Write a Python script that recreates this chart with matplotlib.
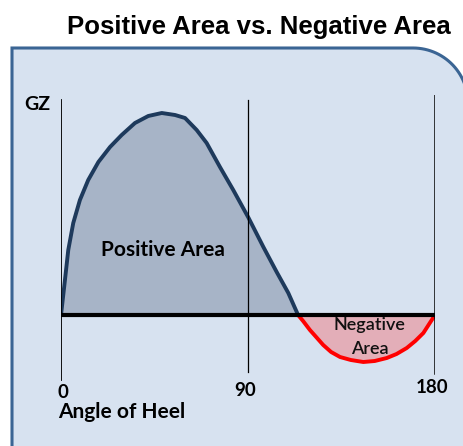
import numpy as np
import matplotlib
matplotlib.use("Agg")
import matplotlib.pyplot as plt
from matplotlib.path import Path
from matplotlib.patches import PathPatch

# GZ curve (angle in degrees, GZ in arbitrary units)
pos_angle = [0, 1.9, 3.5, 5.9, 9.1, 13.1, 18.0, 23.6, 29.2, 35.6, 42.0, 48.5,
             54.9, 59.7, 65.3, 70.1, 76.5, 82.9, 90.3, 97.4, 103.8, 109.4, 114.1]
pos_gz = [0, 0.35, 0.65, 0.92, 1.15, 1.35, 1.53, 1.68, 1.80, 1.92, 1.99, 2.02,
          2.00, 1.97, 1.85, 1.72, 1.48, 1.25, 0.97, 0.68, 0.43, 0.22, 0.0]
neg_angle = [114.1, 116.5, 119.8, 122.8, 126.2, 130.0, 134.3, 139.5, 145.5,
             151.0, 156.8, 161.5, 166.4, 170.5, 174.4, 177.5, 180]
neg_gz = [0.0, -0.06, -0.15, -0.22, -0.30, -0.37, -0.42, -0.45, -0.47,
          -0.46, -0.43, -0.39, -0.33, -0.26, -0.18, -0.08, 0.0]
tick_vals = [0, 90, 180]
tick_labels = ["0", "90", "180"]

W, H = 463, 446
fig = plt.figure(figsize=(W / 100, H / 100), dpi=100)
fig.patch.set_facecolor("white")

# background panel in pixel coordinates
bg = fig.add_axes([0, 0, 1, 1])
bg.set_xlim(0, W)
bg.set_ylim(H, 0)
bg.axis("off")
r = 55
cx, cy = 413, 48 + r
t = np.linspace(np.pi / 2, 0, 30)
arc_x = cx + r * np.cos(t)
arc_y = cy - r * np.sin(t)
verts = [(12, H + 20), (12, 48)] + list(zip(arc_x, arc_y)) + [(cx + r, H + 20)]
panel = PathPatch(Path(verts), facecolor="#D7E2F0", edgecolor="#3B6594", lw=2.2)
bg.add_patch(panel)
bg.text(259, 27, "Positive Area vs. Negative Area", ha="center", va="center",
        fontsize=18.5, fontweight="bold", family="Liberation Sans")

# plot area: 0..180 deg -> x 61..435 px, GZ 0 -> y 315 px, 100 px per unit
ax = fig.add_axes([61 / W, (H - 395) / H, 374 / W, 300 / H])
ax.set_xlim(0, 180)
ax.set_ylim(-0.8, 2.2)
ax.axis("off")

ax.fill_between(pos_angle, pos_gz, 0, color="#A7B4C7", lw=0)
ax.fill_between(neg_angle, neg_gz, 0, color="#E3AEB8", lw=0)
ax.plot(pos_angle, pos_gz, color="#1E3A5C", lw=2.8, solid_capstyle="round",
        solid_joinstyle="round")
ax.plot(neg_angle, neg_gz, color="#FF0000", lw=2.8, solid_capstyle="round",
        solid_joinstyle="round")

ax.plot([0, 0], [2.15, -0.65], color="black", lw=1.3)
ax.plot([90, 90], [2.15, -0.57], color="black", lw=0.9)
ax.plot([180, 180], [2.2, -0.58], color="black", lw=1.8)
ax.plot([0, 180], [0, 0], color="black", lw=3)

fnt = ["Lato", "DejaVu Sans"]
for v, lab in zip(tick_vals, tick_labels):
    ax.text(v + (1 if v == 0 else -1.5), -0.78 + v * 0.0003, lab, ha="center",
            va="center", fontsize=13.5, fontweight="bold", family=fnt)
ax.text(-1.5, -0.97, "Angle of Heel", ha="left", va="center", fontsize=15,
        fontweight="bold", family=fnt, clip_on=False)
ax.text(-11.5, 2.11, "GZ", ha="center", va="center", fontsize=14,
        fontweight="bold", family=fnt, clip_on=False)
ax.text(49, 0.65, "Positive Area", ha="center", va="center", fontsize=15,
        fontweight="bold", family=fnt)
ax.text(148.5, -0.1, "Negative", ha="center", va="center", fontsize=13,
        fontweight="semibold", family=fnt, color="#111111")
ax.text(148.5, -0.34, "Area", ha="center", va="center", fontsize=13,
        fontweight="semibold", family=fnt, color="#111111")

fig.savefig("out.png", dpi=100)
